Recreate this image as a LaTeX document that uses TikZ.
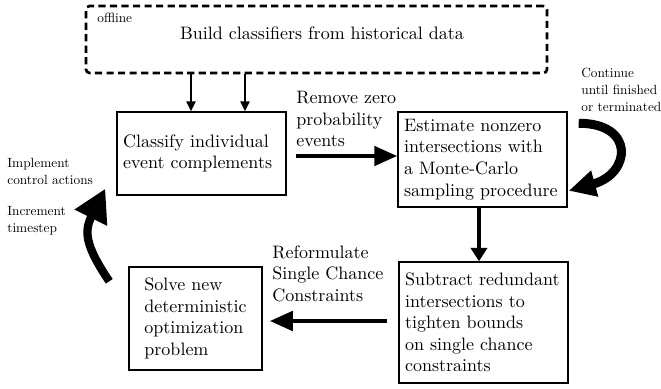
\documentclass[tikz,border=0pt]{standalone}
\usepackage{fontspec}
\newfontfamily\smallfnt{lmroman10-regular.otf}
\usetikzlibrary{arrows.meta,calc}
\begin{document}
\begin{tikzpicture}[x=0.5556pt,y=-0.5556pt,
  box/.style={draw, line width=0.8pt, inner ysep=0pt, align=left},
  wbox/.style={box, text width=87.2pt, inner xsep=3.33pt},
  lbl/.style={inner sep=0pt, align=left, anchor=west},
  small/.style={font=\smallfnt\fontsize{7.4}{9.4}\selectfont},
  thinarr/.style={line width=1.6pt, -{Triangle[length=5.5pt,width=5pt]}},
  bigarr/.style={line width=2.5pt, -{Triangle[length=12.8pt,width=10.6pt]}},
  medarr/.style={line width=2.5pt, -{Triangle[length=7.5pt,width=9pt]}},
  curvarr/.style={line width=5pt, -{Triangle[length=15pt,width=14pt]}},
  curvarrb/.style={line width=4.6pt, -{Triangle[length=18pt,width=19pt]}}
]
\useasboundingbox (0,0) rectangle (661,388);

% boxes
\node[draw, line width=1.5pt, dash pattern=on 4pt off 2.4pt, rounded corners=2pt,
      minimum width=256.1pt, minimum height=37.2pt, inner sep=0pt] (offbox) at (316.5,39.5) {};
\node (build) at (322,33) {Build classifiers from historical data};
\node[lbl, small] (offline) at (97,18) {offline};

\node[wbox, minimum height=46.1pt] (classify) at (201.5,153.5) {Classify individual\\event complements};
\node[wbox, minimum height=52.8pt] (estimate) at (482.5,159.5) {Estimate nonzero\\intersections with\\a Monte-Carlo\\sampling procedure};
\node[wbox, minimum height=67.2pt] (subtract) at (483.5,322.5) {Subtract redundant\\intersections to\\tighten bounds\\on single chance\\constraints};
\node[box, inner xsep=0pt, minimum width=73.9pt, minimum height=57.2pt] (solve) at (195.5,318.5) {Solve new\\deterministic\\optimization\\problem};

% offline arrows
\coordinate (a1) at ($(classify.north)+(-10.5,0)$);
\coordinate (a2) at ($(classify.north)+(43.5,0)$);
\draw[thinarr] (a1 |- offbox.south) -- (a1);
\draw[thinarr] (a2 |- offbox.south) -- (a2);

% classify -> estimate
\coordinate (r0) at ($(classify.east)+(9,2.5)$);
\draw[bigarr] (r0) -- (r0 -| estimate.west);
\node[lbl] (remove) at (296,119) {Remove zero\\probability\\events};

% estimate -> subtract
\coordinate (d0) at ($(estimate.south)+(-3.5,0)$);
\draw[medarr] (d0) -- (d0 |- subtract.north);

% subtract -> solve
\coordinate (s0) at ($(subtract.west)+(-11,-1.5)$);
\coordinate (s1) at ($(solve.east)+(7,0)$);
\draw[bigarr] (s0) -- (s0 -| s1);
\node[lbl] (reform) at (272,273.5) {Reformulate\\Single Chance\\Constraints};

% loops
\draw[curvarr] ($(estimate.north east)+(11,12)$) .. controls +(57,0) and +(62,-17) .. ($(estimate.south east)+(1,-17)$);
\node[lbl, small] (cont) at (581,90) {Continue\\until finished\\or terminated};

\draw[curvarrb] ($(solve.north west)+(-19,15)$) .. controls +(-25,-37) and +(-21,42) .. ($(classify.south west)+(-11,-7)$);
\node[lbl, small] (impl) at (7,171.5) {Implement\\control actions};
\node[lbl, small] (incr) at (7,220.5) {Increment\\timestep};
\end{tikzpicture}
\end{document}
